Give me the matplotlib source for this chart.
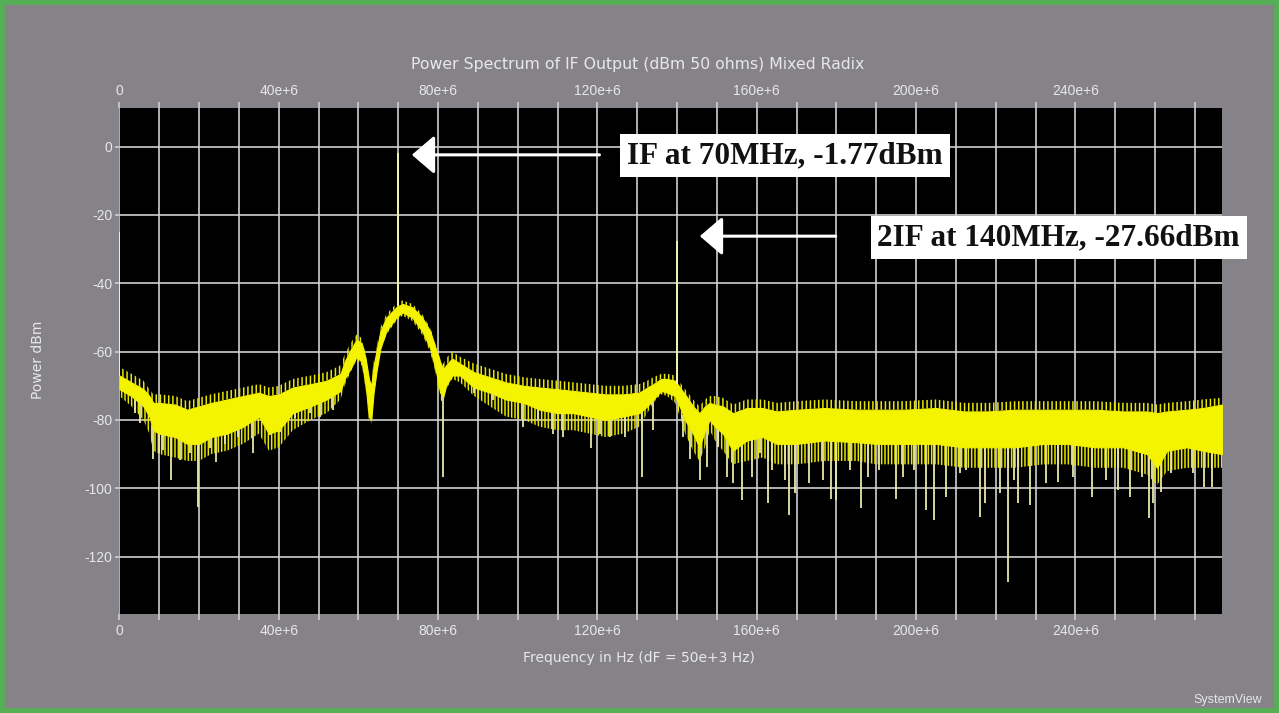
import numpy as np
import matplotlib
matplotlib.use("Agg")
import matplotlib.pyplot as plt
from matplotlib.patches import Rectangle

plt.rcParams['axes.unicode_minus'] = False
plt.rcParams['font.family'] = ['Liberation Sans', 'DejaVu Sans']
plt.rcParams['hatch.linewidth'] = 1.1

# ---------------- data ----------------
# frequency grid of the noise envelope, MHz
env_freq = [0, 3, 6, 7.5, 8.5, 10, 14, 17, 20, 23,
            27, 31, 35, 37.5, 40, 43.5, 48, 52, 55.5, 56.5,
            58, 59.5, 60.8, 61.8, 62.6, 63.2, 63.8, 64.5, 65.5, 67,
            69.5, 71, 73.5, 76, 78, 79.5, 80.5, 81.3, 82, 83.5,
            85.5, 89, 93, 97, 101.5, 105.5, 110, 114, 118, 122,
            126.5, 130.5, 132.5, 134, 136, 137.5, 139.5, 141, 142, 144,
            145.6, 147, 148.2, 149.5, 151.5, 154, 157.5, 161.5, 165, 170,
            177, 185, 190, 197, 205, 212, 218, 225, 232, 238,
            245, 252, 258, 260.5, 263, 268, 272, 276.8]
# reach of the upward noise above the band, dBm
env_peak = [-64.5, -66.5, -68.5, -71, -72.5, -72.5, -73, -74.5, -73.5, -72.5,
            -71.5, -70.5, -69.5, -70.5, -70, -68, -67, -66, -64, -61,
            -57.5, -55, -56, -61, -67, -69, -63, -59, -53, -49,
            -46, -45, -46, -49, -53, -58.5, -62, -63.5, -62, -60,
            -61.5, -63.5, -65, -66.5, -67.5, -68, -68.5, -69, -69.5, -70,
            -70, -69.5, -68.5, -67.5, -66.5, -66.5, -67, -69.5, -71, -74,
            -76, -74, -73, -73, -73.5, -75.5, -74, -74, -75, -74.5,
            -74, -74.5, -74.5, -74.5, -74, -75, -75, -74.5, -74.5, -74.5,
            -74.5, -75, -75, -75.5, -75, -74.5, -74, -73.5]
# upper edge of the solid noise band, dBm
env_top = [-67, -69, -71, -73, -75, -75, -75.5, -77, -76, -75,
           -74, -73, -72, -73, -72.5, -70.5, -69.5, -68.5, -66.5, -63,
           -59.5, -56.5, -57.5, -62, -68, -70, -64, -60, -54, -50,
           -47, -46, -47, -50, -54, -59.5, -63, -65, -64, -62,
           -63.5, -66, -67.5, -69, -70, -70.5, -71, -71.5, -72, -72.5,
           -72.5, -72, -70.5, -69.5, -68, -68, -68.5, -71, -72.5, -76,
           -78, -76, -75, -75.5, -76, -78, -76.5, -76.5, -77.5, -77,
           -76.5, -77, -77, -77, -76.5, -77.5, -77.5, -77, -77, -77,
           -77, -77.5, -77.5, -78, -77.5, -77, -76.5, -75.5]
# lower edge of the solid part of the band, dBm
env_bot = [-71, -73, -76, -79, -83, -84, -85, -87, -87, -85,
           -84, -82, -79, -84, -83, -78, -76, -74, -71.5, -68,
           -65, -61.5, -63, -70, -79, -80, -72, -66, -59, -54,
           -50, -48.5, -50, -54, -59, -66, -72, -73, -70, -67,
           -67, -70.5, -72, -74, -75, -77, -78, -78, -79, -80,
           -79, -78, -76, -74, -71.5, -72, -73, -77, -80, -84,
           -88, -83, -80, -82, -84, -89, -86, -85, -87, -87,
           -86, -86.5, -87, -87, -87, -88, -88, -88, -87, -87,
           -88, -88, -90, -94, -89, -88, -89, -90]
# reach of the dense downward noise below the solid band, dBm
env_fringe = [-73, -76, -80, -84, -89, -90, -91, -92, -92, -90,
              -89, -87, -84, -89, -88, -83, -80, -78, -74, -70,
              -66, -62.5, -64, -71, -80, -81, -73, -67, -60, -55,
              -51, -49.5, -51, -55, -60, -67, -74, -75, -71, -68,
              -69, -73, -76, -79, -80, -82, -83, -83, -84, -85,
              -84, -82, -78, -75, -72.5, -73, -75, -80, -84, -89,
              -92, -88, -83, -86, -89, -93, -92, -91, -93, -93,
              -92, -92, -93, -93, -93, -94, -94, -94, -93, -93,
              -94, -94, -96, -99, -95, -94, -94, -94]

# isolated deep downward noise lines: frequency (MHz) and depth (dBm)
dip_freq = [3.9, 5.1, 8.3, 10.0, 11.0, 12.9, 15.2, 17.7, 19.8, 22.7,
            24.2, 26.5, 29.8, 33.6, 37.8, 40.3, 44.0, 47.8, 50.3, 53.5,
            81.1, 88.9, 93.8, 101.4, 105.1, 108.9, 111.4, 118.5, 120.6, 123.1,
            126.9, 131.3, 134.0, 141.5, 143.2, 145.7, 147.4, 150.3, 152.4, 154.1,
            156.2, 158.7, 160.7, 162.8, 163.9, 167.0, 168.0, 169.5, 173.0, 176.6,
            178.7, 179.9, 183.3, 186.2, 187.9, 190.8, 195.0, 196.7, 199.4, 202.4,
            204.5, 207.6, 211.0, 212.6, 216.1, 217.2, 221.0, 223.1, 224.7, 225.6,
            228.5, 232.5, 235.6, 239.4, 244.2, 247.7, 250.7, 253.7, 256.8, 258.4,
            259.4, 261.5, 264.0, 269.5, 272.4, 274.3]
dip_level = [-78, -81, -91.3, -89.8, -88.8, -97.6, -91.7, -89.8, -105.5, -88.3,
             -92.2, -86.9, -84.9, -89.8, -84.4, -83.4, -79.5, -78, -79, -77.1,
             -96.6, -72.2, -74.2, -82, -80, -84, -84.9, -88.3, -84, -84.9,
             -84.9, -96.6, -83, -84.9, -91.3, -97.6, -93.7, -87.8, -96.6, -98.6,
             -103.4, -96.6, -89.8, -104.4, -94.7, -97.6, -107.9, -101.5, -98.6, -97.6,
             -103, -103.5, -94.7, -105.9, -96.6, -94.7, -103, -96.6, -94.7, -106.4,
             -109.3, -102.5, -95.6, -94.7, -108.3, -104.4, -101.5, -127.4, -97.6, -104.4,
             -104.9, -98.6, -98.1, -96.6, -102.5, -97.6, -100.5, -102.5, -96.6, -108.8,
             -104.4, -101, -95.6, -95.6, -99.5, -99.5]

# discrete tones: DC, IF, 2IF
spike_freq = [0, 70, 140]
spike_level = [-25, -1.77, -27.66]

xtick_vals = [0, 40, 80, 120, 160, 200, 240]
xtick_labels = ["0", "40e+6", "80e+6", "120e+6", "160e+6", "200e+6", "240e+6"]
ytick_vals = [0, -20, -40, -60, -80, -100, -120]

title_txt = "Power Spectrum of IF Output (dBm 50 ohms) Mixed Radix"
xlabel_txt = "Frequency in Hz (dF = 50e+3 Hz)"
ylabel_txt = "Power dBm"
note1 = "IF at 70MHz, -1.77dBm"
note2 = "2IF at 140MHz, -27.66dBm"

assert len(dip_freq) == len(dip_level)

# ---------------- figure ----------------
W, H = 1279, 713
BG = '#858288'
YEL = '#f4f400'
PALE = '#e8e8a8'
TXT = '#e8e8e8'
GRID = '#cfcfcf'

fig = plt.figure(figsize=(W / 100, H / 100), dpi=100, facecolor=BG)
L, R, T, B = 119.5, 1222, 107.7, 614
ax = fig.add_axes([L / W, 1 - B / H, (R - L) / W, (B - T) / H])
ax.set_facecolor('black')

hz = 1e6
ef = np.array(env_freq) * hz
et = np.array(env_top)
eb = np.array(env_bot)
efr = np.array(env_fringe)
ep = np.array(env_peak)

# upward and downward noise fringes (yellow lines on black), solid band
ax.fill_between(ef, eb, efr, facecolor='none', edgecolor='#e6e600',
                hatch='|||||', lw=0, zorder=2)
ax.fill_between(ef, ep, et, facecolor='none', edgecolor='#e6e600',
                hatch='||||', lw=0, zorder=2)
ax.fill_between(ef, et, eb, color=YEL, lw=0.8, edgecolor=YEL, zorder=3)

# deep noise lines
df = np.array(dip_freq) * hz
dtop = np.interp(df, ef, eb)
ax.vlines(df, dip_level, dtop, colors=PALE, lw=1.3, zorder=2.5)

# tones
sf = np.array(spike_freq) * hz
stop = np.interp(sf, ef, et)
ax.vlines(sf, spike_level, stop, colors='#f2f2b0', lw=1.4, zorder=4)

ax.set_xlim(0, 276.8e6)
ax.set_ylim(-136.8, 11.4)

ax.set_xticks(np.arange(0, 271, 10) * hz)
ax.set_xticklabels([xtick_labels[xtick_vals.index(v)] if v in xtick_vals else ''
                    for v in range(0, 271, 10)])
ax.set_yticks(ytick_vals)
ax.set_yticklabels([str(v) for v in ytick_vals])
ax.grid(True, color=GRID, lw=1.2, zorder=1)
ax.set_axisbelow(True)
for s in ax.spines.values():
    s.set_visible(False)

ax.tick_params(axis='x', which='both', top=True, labeltop=True, bottom=True,
               labelbottom=True, direction='out', length=4, width=1.2,
               color=GRID, pad=3, labelsize=10, labelcolor=TXT)
ax.tick_params(axis='y', direction='out', length=3, width=1.2, color=GRID,
               pad=2, labelsize=10, labelcolor=TXT)

# arrows
ax.annotate('', xy=(73.4e6, -2.4), xytext=(120.5e6, -2.4),
            arrowprops=dict(arrowstyle='-|>,head_length=0.7,head_width=0.6',
                            color='white', lw=2.2, mutation_scale=20,
                            shrinkA=0, shrinkB=0), zorder=6)
ax.annotate('', xy=(145.7e6, -26.2), xytext=(179.8e6, -26.2),
            arrowprops=dict(arrowstyle='-|>,head_length=0.7,head_width=0.6',
                            color='white', lw=2.2, mutation_scale=20,
                            shrinkA=0, shrinkB=0), zorder=6)

boxkw = dict(boxstyle='square,pad=0.22', fc='white', ec='none')
ax.text(167.1e6, -2.6, note1, ha='center', va='center', fontsize=22.5,
        fontweight='bold', family='Liberation Serif', color='#111111',
        bbox=boxkw, clip_on=False, zorder=7)
ax.text(235.8e6, -26.6, note2, ha='center', va='center', fontsize=22.5,
        fontweight='bold', family='Liberation Serif', color='#111111',
        bbox=boxkw, clip_on=False, zorder=7)

fig.text(638 / W, 1 - 64 / H, title_txt, ha='center', va='center',
         fontsize=11.3, color=TXT, family='DejaVu Sans')
fig.text(639 / W, 1 - 658 / H, xlabel_txt, ha='center', va='center',
         fontsize=10, color=TXT, family='DejaVu Sans')
fig.text(38 / W, 1 - 360 / H, ylabel_txt, ha='center', va='center',
         rotation=90, fontsize=10, color=TXT, family='DejaVu Sans')
fig.text(1262 / W, 1 - 700 / H, "SystemView", ha='right', va='center',
         fontsize=9, color=TXT)

fig.patches.append(Rectangle((0, 0), 1, 1, transform=fig.transFigure,
                             fill=False, edgecolor='#55b055', lw=7,
                             zorder=10))

fig.savefig('out.png', dpi=100, facecolor=BG)
